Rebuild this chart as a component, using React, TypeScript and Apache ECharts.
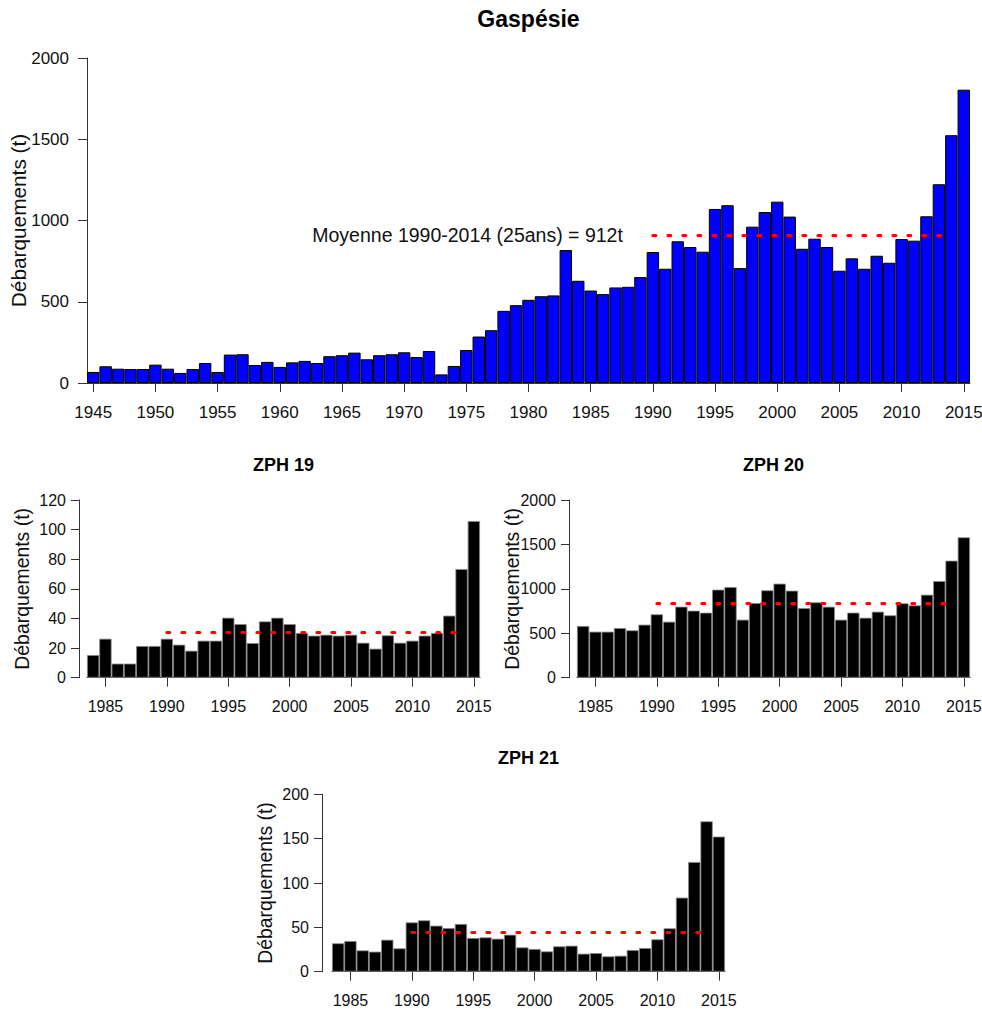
import React, { useEffect, useRef } from 'react';
import * as echarts from 'echarts';

const FONT = "'Liberation Sans', Arial, Helvetica, sans-serif";
const TXT = '#111';
const AXIS = '#333';

// categories
const gaspesieYears: string[] = Array.from({ length: 71 }, (_, i) => String(1945 + i));
const zphYears: string[] = Array.from({ length: 32 }, (_, i) => String(1984 + i));

// landings (t), Gaspésie 1945-2015
const gaspesieValues = [
  68, 103, 88, 86, 86, 113, 88, 62, 86, 123,
  68, 175, 177, 111, 130, 99, 127, 136, 123, 165,
  171, 187, 146, 171, 177, 189, 160, 197, 53, 105,
  203, 286, 325, 444, 479, 512, 534, 539, 818, 629,
  569, 547, 588, 592, 652, 806, 703, 872, 837, 808,
  1071, 1094, 707, 962, 1052, 1116, 1024, 826, 888, 837,
  691, 767, 703, 783, 740, 886, 876, 1026, 1223, 1525,
  1805,
];

// ZPH 19, 1984-2015
const zph19Values = [
  15.3, 26.3, 9.5, 9.5, 21.4, 21.4, 26.3, 22.3, 18.2, 25,
  25, 40.5, 36.2, 23.4, 38, 40.5, 36.2, 30.2, 28.4, 29,
  28.4, 29, 23.6, 19.6, 28.6, 23.6, 25, 28.4, 30.2, 41.9,
  73.4, 105.8,
];

// ZPH 20, 1984-2015
const zph20Values = [
  582, 518, 518, 559, 533, 597, 713, 630, 799, 754,
  732, 991, 1021, 653, 840, 983, 1058, 979, 784, 848,
  799, 653, 732, 675, 743, 702, 837, 814, 934, 1088,
  1317, 1580,
];

// ZPH 21, 1984-2015
const zph21Values = [
  32, 34.6, 24, 22.6, 36, 26.3, 55.6, 57.9, 51.9, 49.2,
  53.8, 38, 38.7, 37.2, 41.7, 27.4, 25.6, 22.9, 28.6, 29.3,
  20.3, 21, 17.3, 18, 24.4, 26.7, 36.5, 48.9, 83.5, 123.7,
  169.5, 152.3,
];

// 1990-2014 means
const gaspesieMean = 912;
const zph19Mean = 30.6;
const zph20Mean = 840;
const zph21Mean = 45;
const meanFrom = '1990';
const meanTo = '2014';
const meanText = 'Moyenne 1990-2014 (25ans) = 912t';

// y axis scales [min, max, interval]
const gaspesieScale = [0, 2000, 500];
const zph19Scale = [0, 120, 20];
const zph20Scale = [0, 2000, 500];
const zph21Scale = [0, 200, 50];

const titles = ['Gaspésie', 'ZPH 19', 'ZPH 20', 'ZPH 21'];
const yName = 'Débarquements (t)';

type Panel = {
  years: string[];
  values: number[];
  mean: number;
  scale: number[];
  grid: { left: number; top: number; width: number; height: number };
  offset: number;
  big: boolean;
  color: string;
  border: string;
  label?: string;
};

const panels: Panel[] = [
  { years: gaspesieYears, values: gaspesieValues, mean: gaspesieMean, scale: gaspesieScale,
    grid: { left: 87, top: 58, width: 883, height: 325 }, offset: 0, big: true,
    color: '#0000ff', border: '#000', label: meanText },
  { years: zphYears, values: zph19Values, mean: zph19Mean, scale: zph19Scale,
    grid: { left: 87, top: 500, width: 393, height: 177.7 }, offset: 8, big: false,
    color: '#000', border: '#8a8a8a' },
  { years: zphYears, values: zph20Values, mean: zph20Mean, scale: zph20Scale,
    grid: { left: 577, top: 500, width: 393, height: 177.7 }, offset: 8, big: false,
    color: '#000', border: '#8a8a8a' },
  { years: zphYears, values: zph21Values, mean: zph21Mean, scale: zph21Scale,
    grid: { left: 332, top: 794.3, width: 393, height: 177.4 }, offset: 10, big: false,
    color: '#000', border: '#8a8a8a' },
];

const every5 = (_i: number, v: string) => Number(v) % 5 === 0;

export default function App() {
  const ref = useRef<HTMLDivElement>(null);

  useEffect(() => {
    if (!ref.current) return;
    const chart = echarts.init(ref.current, undefined, { renderer: 'svg' });

    const grid = panels.map((p) => ({ ...p.grid, containLabel: false, outerBoundsMode: 'none' }));

    const xAxis = panels.map((p, i) => ({
      type: 'category',
      gridIndex: i,
      data: p.years,
      boundaryGap: true,
      axisLine: { show: true, lineStyle: { color: AXIS, width: 1 } },
      axisTick: { show: true, interval: every5, alignWithLabel: true, length: 9, lineStyle: { color: AXIS } },
      axisLabel: {
        show: true, interval: every5, margin: 21,
        fontSize: p.big ? 17 : 16, color: TXT, fontFamily: FONT,
      },
      splitLine: { show: false },
    }));

    const yAxis = panels.map((p, i) => ({
      type: 'value',
      gridIndex: i,
      min: p.scale[0],
      max: p.scale[1],
      interval: p.scale[2],
      offset: p.offset,
      name: yName,
      nameLocation: 'middle',
      nameRotate: 90,
      nameGap: p.big ? 58 : 48,
      nameMoveOverlap: false,
      nameTextStyle: { fontSize: p.big ? 20.8 : 19.4, color: TXT, fontFamily: FONT },
      axisLine: { show: true, lineStyle: { color: AXIS, width: 1 } },
      axisTick: { show: true, length: p.big ? 9 : 8, lineStyle: { color: AXIS } },
      axisLabel: {
        margin: p.big ? 18 : 13, fontSize: p.big ? 17 : 16, color: TXT, fontFamily: FONT,
        formatter: (v: number) => String(v),
      },
      splitLine: { show: false },
    }));

    const series = panels.map((p, i) => ({
      type: 'bar',
      xAxisIndex: i,
      yAxisIndex: i,
      data: p.values,
      barCategoryGap: '0%',
      itemStyle: { color: p.color, borderColor: p.border, borderWidth: p.big ? 1 : 0.8 },
      markLine: {
        silent: true,
        symbol: ['none', 'none'],
        lineStyle: { color: '#ff0000', width: 3, type: [3, 12], cap: 'round' },
        label: p.label
          ? { show: true, position: 'start', distance: 30, formatter: p.label,
              fontSize: 19.5, color: TXT, fontFamily: FONT }
          : { show: false },
        emphasis: { disabled: true },
        data: [[{ coord: [meanFrom, p.mean] }, { coord: [meanTo, p.mean] }]],
      },
    }));

    const titleSpecs = [
      { x: 528.5, y: 18.5, size: 23 },
      { x: 283.5, y: 465, size: 18 },
      { x: 773.5, y: 465, size: 18 },
      { x: 528.5, y: 758, size: 18 },
    ];

    const graphic = titleSpecs.map((t, i) => ({
      type: 'text',
      x: t.x,
      y: t.y,
      silent: true,
      style: {
        text: titles[i],
        fontSize: t.size,
        fontWeight: 'bold',
        fontFamily: FONT,
        fill: '#000',
        align: 'center',
        verticalAlign: 'middle',
        textAlign: 'center',
        textVerticalAlign: 'middle',
      },
    }));

    chart.setOption({
      animation: false,
      backgroundColor: '#fff',
      textStyle: { fontFamily: FONT },
      grid,
      xAxis,
      yAxis,
      series,
      graphic,
    } as any);

    return () => chart.dispose();
  }, []);

  return (
    <div
      ref={ref}
      style={{ position: 'absolute', left: 0, top: 0, width: 982, height: 1009, background: '#fff' }}
    />
  );
}
